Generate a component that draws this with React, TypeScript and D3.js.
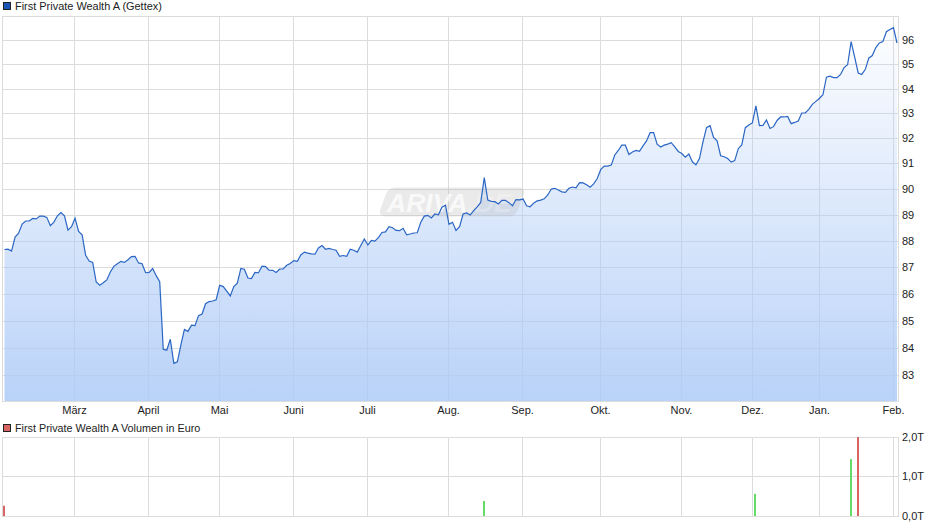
import React from "react";
import * as d3 from "d3";

const FONT = "'Liberation Sans', Arial, sans-serif";

// price per trading day
const prices = [
  87.68, 87.69, 87.62, 88.15, 88.3, 88.65, 88.77, 88.77, 88.87, 88.85,
  88.96, 88.96, 88.91, 88.59, 88.73, 88.97, 89.1, 88.97, 88.42, 88.55,
  88.88, 88.37, 88.24, 87.46, 87.24, 87.19, 86.45, 86.33, 86.42, 86.53,
  86.83, 87.04, 87.14, 87.23, 87.19, 87.29, 87.41, 87.42, 87.17, 87.14,
  86.8, 86.81, 86.96, 86.69, 86.46, 83.96, 83.93, 84.33, 83.45, 83.51,
  84.12, 84.69, 84.62, 84.85, 84.83, 85.2, 85.26, 85.64, 85.72, 85.74,
  85.79, 86.33, 86.28, 86.11, 85.93, 86.28, 86.41, 86.96, 86.93, 86.6,
  86.58, 86.81, 86.8, 87.05, 87.03, 86.9, 86.89, 86.81, 86.94, 86.94,
  87.08, 87.15, 87.26, 87.23, 87.47, 87.58, 87.54, 87.51, 87.5, 87.74,
  87.83, 87.69, 87.72, 87.68, 87.65, 87.42, 87.45, 87.42, 87.69, 87.65,
  87.58, 87.83, 88.08, 87.85, 88.03, 88.0, 88.13, 88.33, 88.35, 88.55,
  88.51, 88.41, 88.4, 88.49, 88.24, 88.27, 88.31, 88.32, 88.72, 88.96,
  88.99, 88.89, 89.04, 89.01, 89.3, 89.38, 88.64, 88.72, 88.41, 88.55,
  89.04, 89.08, 89.0, 89.17, 89.32, 89.49, 90.46, 89.58, 89.53, 89.52,
  89.43, 89.57, 89.57, 89.48, 89.36, 89.6, 89.59, 89.62, 89.36, 89.32,
  89.46, 89.55, 89.58, 89.63, 89.78, 90.01, 90.04, 89.97, 89.9, 89.88,
  90.04, 90.09, 90.06, 90.26, 90.25, 90.18, 90.08, 90.21, 90.41, 90.77,
  90.91, 90.91, 90.95, 91.35, 91.53, 91.74, 91.74, 91.37, 91.47, 91.53,
  91.5, 91.71, 91.91, 92.24, 92.24, 91.78, 91.67, 91.74, 91.78, 91.84,
  91.67, 91.49, 91.41, 91.26, 91.39, 91.08, 90.96, 91.21, 91.87, 92.44,
  92.52, 92.05, 91.91, 91.32, 91.28, 91.21, 91.07, 91.13, 91.6, 91.75,
  92.44, 92.55, 92.63, 93.32, 92.52, 92.53, 92.75, 92.41, 92.48, 92.73,
  92.87, 92.87, 92.89, 92.6, 92.65, 92.71, 93.03, 93.03, 93.18, 93.38,
  93.5, 93.62, 93.77, 94.49, 94.53, 94.47, 94.47, 94.6, 94.88, 95.0,
  95.96, 95.31, 94.66, 94.6, 94.8, 95.27, 95.38, 95.71, 95.9, 95.96,
  96.37, 96.46, 96.54, 95.9,
];

const monthLabels = ["März", "April", "Mai", "Juni", "Juli", "Aug.", "Sep.", "Okt.", "Nov.", "Dez.", "Jan.", "Feb."];
const monthIndex = [20, 41, 61, 82, 103, 126, 147, 169, 192, 212, 231, 252];
const priceTicks = [83, 84, 85, 86, 87, 88, 89, 90, 91, 92, 93, 94, 95, 96];

// volume in thousand euro
const volumeIndex = [0, 136, 213, 240, 242];
const volumeValues = [0.26, 0.38, 0.56, 1.44, 2.0];
const volumeColors = ["#d96464", "#66dc66", "#66dc66", "#66dc66", "#d96464"];
const volumeTicks = [0, 1, 2];

export default function App() {
  const ref = React.useRef<SVGSVGElement>(null);

  React.useEffect(() => {
    const svg = d3.select(ref.current);
    svg.selectAll("*").remove();

    const left = 3, right = 898;
    const top = 16, bottom = 401;
    const volTop = 437, volBottom = 516;

    const x = d3.scaleLinear().domain([0, prices.length - 1]).range([4.5, 897]);
    const y = d3.scaleLog().domain([82.1, 97.03]).range([bottom, top]);
    const v = d3.scaleLinear().domain([0, 2]).range([volBottom, volTop]);

    // grid lines sit on whole pixels
    const xAxisScale: any = Object.assign((i: number) => Math.round(x(i) - 0.7), {
      copy: () => xAxisScale,
      domain: () => x.domain(),
      range: () => x.range(),
    });
    const yGrid = y.copy().range([bottom - 0.5, top - 0.5]).interpolate(d3.interpolateRound);
    const vGrid = v.copy().range([volBottom - 0.5, volTop - 0.5]).interpolate(d3.interpolateRound);

    const defs = svg.append("defs");
    const grad = defs.append("linearGradient")
      .attr("id", "areaFill")
      .attr("gradientUnits", "userSpaceOnUse")
      .attr("x1", 0).attr("x2", 0)
      .attr("y1", top).attr("y2", bottom);
    grad.append("stop").attr("offset", 0).attr("stop-color", "#adcaf7").attr("stop-opacity", 0);
    grad.append("stop").attr("offset", 1).attr("stop-color", "#adcaf7").attr("stop-opacity", 0.85);

    const styleAxis = (g: any) => {
      g.select(".domain").remove();
      g.selectAll("line").attr("stroke", "#dcdcdc");
      g.selectAll("text").attr("fill", "#222").attr("font-family", FONT).attr("font-size", 11);
    };

    // price pane
    svg.append("g")
      .attr("transform", `translate(0,${bottom})`)
      .call(d3.axisBottom(xAxisScale).tickValues(monthIndex)
        .tickSize(-(bottom - top)).tickPadding(5)
        .tickFormat((_d: any, i: number) => monthLabels[i]))
      .call(styleAxis);

    svg.append("g")
      .attr("transform", `translate(${right},0)`)
      .call(d3.axisRight(yGrid).tickValues(priceTicks)
        .tickSize(-(right - left)).tickPadding(4)
        .tickFormat((d: any) => String(d)))
      .call(styleAxis);

    svg.append("rect")
      .attr("x", left - 0.5).attr("y", top + 0.5)
      .attr("width", right - left + 1).attr("height", bottom - top)
      .attr("fill", "none").attr("stroke", "#dcdcdc");

    const area = d3.area<number>()
      .x((_d, i) => x(i))
      .y0(bottom)
      .y1((d) => y(d));
    const line = d3.line<number>()
      .x((_d, i) => x(i))
      .y((d) => y(d));

    svg.append("path").attr("d", area(prices)).attr("fill", "url(#areaFill)");

    // watermark
    const mark = svg.append("g");
    mark.append("rect")
      .attr("x", 383).attr("y", 187.5).attr("width", 138).attr("height", 29).attr("rx", 7)
      .attr("transform", "translate(0,202) skewX(-20) translate(0,-202)")
      .attr("fill", "#bbb").attr("fill-opacity", 0.3);
    const markText = mark.append("text")
      .attr("x", 387).attr("y", 212)
      .attr("font-family", FONT).attr("font-size", 26.5).attr("font-weight", "bold").attr("font-style", "italic")
      .attr("fill", "#fff");
    markText.append("tspan").attr("fill-opacity", 0.75).text("ARIVA");
    markText.append("tspan").attr("fill-opacity", 0.25).text(".DE");

    svg.append("path").attr("d", line(prices))
      .attr("fill", "none").attr("stroke", "#2a66c4").attr("stroke-width", 1.2);

    // volume pane
    svg.append("g")
      .attr("transform", `translate(0,${volBottom})`)
      .call(d3.axisBottom(xAxisScale).tickValues(monthIndex)
        .tickSize(-(volBottom - volTop)).tickFormat(() => ""))
      .call(styleAxis);

    svg.append("g")
      .attr("transform", `translate(${right},0)`)
      .call(d3.axisRight(vGrid).tickValues(volumeTicks)
        .tickSize(-(right - left)).tickPadding(4)
        .tickFormat((d: any) => d3.format(".1f")(d).replace(".", ",") + "T"))
      .call(styleAxis);

    svg.append("rect")
      .attr("x", left - 0.5).attr("y", volTop + 0.5)
      .attr("width", right - left + 1).attr("height", volBottom - volTop)
      .attr("fill", "none").attr("stroke", "#dcdcdc");

    svg.append("g").selectAll("rect")
      .data(volumeValues)
      .join("rect")
      .attr("x", (_d, i) => Math.floor(x(volumeIndex[i]) - 1))
      .attr("width", 2)
      .attr("y", (d) => v(d))
      .attr("height", (d) => volBottom - v(d))
      .attr("fill", (_d, i) => volumeColors[i]);

    // legends
    const legend = (yPos: number, color: string, label: string, size: number) => {
      svg.append("rect")
        .attr("x", 3.5).attr("y", yPos - 7.5).attr("width", 7).attr("height", 7)
        .attr("fill", color).attr("stroke", "#222");
      svg.append("text")
        .attr("x", 15).attr("y", yPos)
        .attr("font-family", FONT).attr("font-size", size).attr("fill", "#222")
        .text(label);
    };
    legend(10, "#1a56b8", "First Private Wealth A (Gettex)", 10.95);
    legend(432, "#d96464", "First Private Wealth A Volumen in Euro", 10.8);
  }, []);

  return <svg ref={ref} width={940} height={526} style={{ position: "absolute", left: 0, top: 0, display: "block" }} />;
}
